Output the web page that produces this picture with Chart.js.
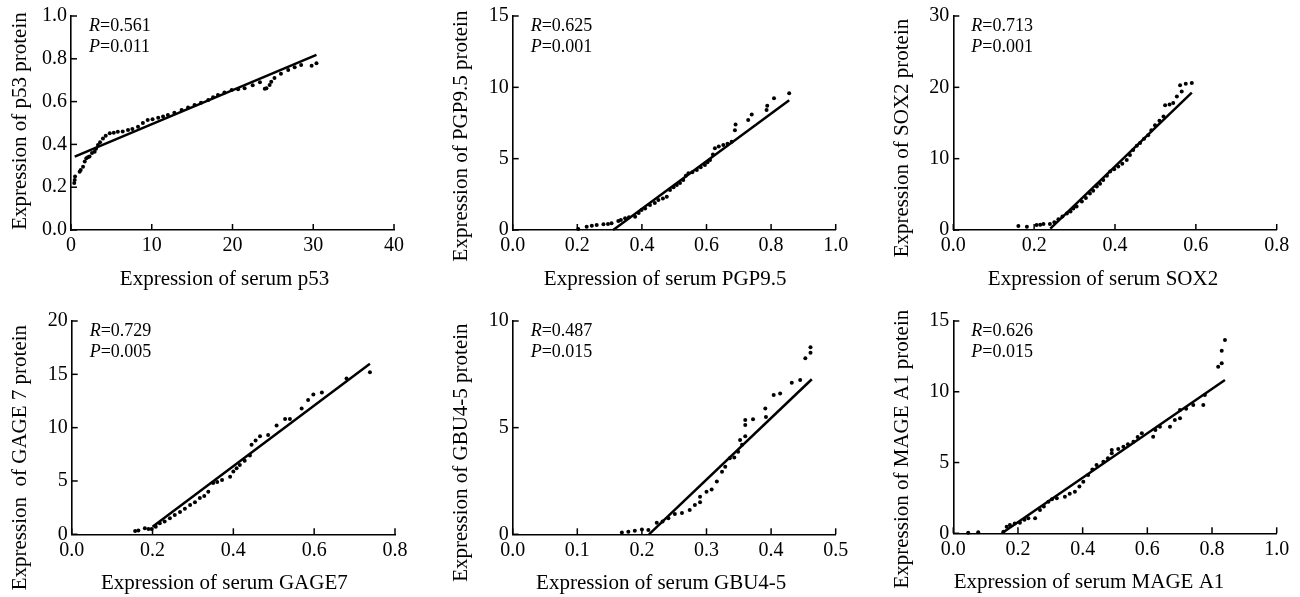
<!DOCTYPE html>
<html>
<head>
<meta charset="utf-8">
<script src="https://cdn.jsdelivr.net/npm/chart.js@4.4.0/dist/chart.umd.min.js"></script>
<style>
  body { margin: 0; background: #fff; }
  canvas { position: absolute; }
</style>
</head>
<body>
<canvas id="c0" width="440" height="290" style="left:0;top:0"></canvas>
<canvas id="c1" width="430" height="290" style="left:440px;top:0"></canvas>
<canvas id="c2" width="430" height="290" style="left:870px;top:0"></canvas>
<canvas id="c3" width="440" height="307" style="left:0;top:290px"></canvas>
<canvas id="c4" width="430" height="307" style="left:440px;top:290px"></canvas>
<canvas id="c5" width="430" height="307" style="left:870px;top:290px"></canvas>
<script>
// ---- data ----
const p53Serum = [0.4, 0.46, 0.5, 1.07, 1.2, 1.49, 1.7, 1.9, 2.1, 2.3, 2.6, 2.93, 3.1, 3.34, 3.6, 3.96, 4.3, 4.8, 5.3, 5.8, 6.4, 7.06, 7.6, 8.3, 8.9, 9.5, 10.1, 10.8, 11.4, 12.0, 12.8, 13.7, 14.5, 15.3, 16.1, 17.0, 17.6, 18.2, 19.0, 19.9, 20.7, 21.5, 22.5, 23.4, 24.0, 24.2, 24.6, 24.8, 25.2, 26.0, 26.9, 27.7, 28.5, 29.8, 30.4];
const p53Protein = [0.22, 0.234, 0.25, 0.272, 0.28, 0.296, 0.32, 0.335, 0.34, 0.343, 0.36, 0.366, 0.38, 0.397, 0.41, 0.428, 0.44, 0.452, 0.455, 0.459, 0.46, 0.467, 0.472, 0.483, 0.5, 0.514, 0.518, 0.525, 0.53, 0.537, 0.548, 0.561, 0.572, 0.584, 0.595, 0.607, 0.62, 0.631, 0.642, 0.654, 0.658, 0.662, 0.676, 0.69, 0.66, 0.662, 0.678, 0.693, 0.71, 0.73, 0.748, 0.76, 0.771, 0.768, 0.779];
const p53FitSerum = [0.46, 30.4];
const p53FitProtein = [0.343, 0.818];

const pgpSerum = [0.203, 0.229, 0.245, 0.26, 0.281, 0.295, 0.306, 0.327, 0.335, 0.348, 0.36, 0.379, 0.39, 0.399, 0.41, 0.425, 0.44, 0.451, 0.465, 0.477, 0.487, 0.498, 0.508, 0.518, 0.528, 0.536, 0.544, 0.556, 0.57, 0.582, 0.595, 0.603, 0.611, 0.62, 0.626, 0.638, 0.652, 0.665, 0.678, 0.688, 0.69, 0.729, 0.74, 0.786, 0.788, 0.809, 0.856];
const pgpProtein = [0.07, 0.23, 0.3, 0.35, 0.4, 0.42, 0.47, 0.63, 0.7, 0.82, 0.9, 0.93, 1.2, 1.4, 1.5, 1.75, 1.9, 2.1, 2.2, 2.33, 2.8, 3.0, 3.15, 3.3, 3.5, 3.8, 3.97, 4.05, 4.2, 4.4, 4.55, 4.75, 4.9, 5.3, 5.73, 5.85, 5.96, 6.05, 6.19, 7.0, 7.4, 7.71, 8.1, 8.41, 8.71, 9.23, 9.58];
const pgpFitSerum = [0.311, 0.856];
const pgpFitProtein = [0, 9.1];

const sox2Serum = [0.161, 0.182, 0.206, 0.215, 0.223, 0.239, 0.25, 0.26, 0.27, 0.281, 0.29, 0.297, 0.305, 0.318, 0.328, 0.338, 0.346, 0.355, 0.363, 0.371, 0.38, 0.388, 0.398, 0.408, 0.418, 0.429, 0.437, 0.445, 0.454, 0.462, 0.472, 0.482, 0.49, 0.499, 0.51, 0.52, 0.524, 0.535, 0.544, 0.553, 0.565, 0.561, 0.575, 0.59];
const sox2Protein = [0.56, 0.47, 0.7, 0.75, 0.84, 0.84, 1.1, 1.5, 1.9, 2.3, 2.6, 3.0, 3.3, 4.0, 4.5, 5.1, 5.5, 6.1, 6.5, 7.0, 7.6, 8.2, 8.5, 8.9, 9.3, 9.8, 10.5, 11.2, 11.8, 12.2, 12.8, 13.3, 14.0, 14.7, 15.3, 15.9, 17.5, 17.6, 17.8, 18.7, 19.4, 20.3, 20.5, 20.6];
const sox2FitSerum = [0.24, 0.59];
const sox2FitProtein = [0.2, 19.25];

const gageSerum = [0.157, 0.165, 0.181, 0.19, 0.198, 0.208, 0.218, 0.23, 0.243, 0.255, 0.268, 0.28, 0.293, 0.305, 0.317, 0.328, 0.338, 0.35, 0.36, 0.372, 0.392, 0.4, 0.408, 0.416, 0.428, 0.441, 0.445, 0.455, 0.466, 0.486, 0.507, 0.528, 0.54, 0.569, 0.585, 0.598, 0.619, 0.68, 0.738];
const gageProtein = [0.31, 0.35, 0.56, 0.5, 0.5, 0.7, 1.03, 1.2, 1.5, 1.8, 2.1, 2.4, 2.75, 3.0, 3.4, 3.6, 4.0, 4.8, 4.9, 5.1, 5.4, 5.9, 6.2, 6.5, 6.9, 7.4, 8.4, 8.8, 9.2, 9.3, 10.2, 10.8, 10.8, 11.8, 12.6, 13.1, 13.3, 14.6, 15.2];
const gageFitSerum = [0.2, 0.738];
const gageFitProtein = [0.7, 16.0];

const gbuSerum = [0.169, 0.179, 0.189, 0.2, 0.21, 0.223, 0.232, 0.241, 0.251, 0.262, 0.274, 0.282, 0.29, 0.29, 0.3, 0.308, 0.316, 0.324, 0.329, 0.336, 0.343, 0.349, 0.352, 0.355, 0.36, 0.36, 0.36, 0.372, 0.391, 0.392, 0.404, 0.414, 0.432, 0.445, 0.453, 0.461, 0.461];
const gbuProtein = [0.08, 0.12, 0.17, 0.23, 0.2, 0.54, 0.6, 0.75, 0.95, 1.0, 1.14, 1.37, 1.76, 1.5, 2.0, 2.1, 2.47, 2.93, 3.17, 3.56, 3.6, 3.87, 4.42, 4.2, 4.6, 5.12, 5.36, 5.39, 5.9, 5.5, 6.53, 6.6, 7.1, 7.23, 8.25, 8.51, 8.77];
const gbuFitSerum = [0.211, 0.463];
const gbuFitProtein = [0, 7.27];

const mageSerum = [0.046, 0.077, 0.155, 0.165, 0.175, 0.19, 0.206, 0.22, 0.232, 0.253, 0.268, 0.28, 0.294, 0.305, 0.32, 0.345, 0.36, 0.376, 0.39, 0.402, 0.417, 0.43, 0.443, 0.464, 0.478, 0.49, 0.49, 0.51, 0.526, 0.54, 0.557, 0.57, 0.583, 0.618, 0.625, 0.639, 0.67, 0.685, 0.701, 0.701, 0.72, 0.742, 0.773, 0.778, 0.819, 0.83, 0.83, 0.84];
const mageProtein = [0.04, 0.07, 0.11, 0.47, 0.59, 0.7, 0.75, 0.95, 1.06, 1.06, 1.65, 1.9, 2.23, 2.4, 2.47, 2.59, 2.8, 2.94, 3.3, 3.65, 4.12, 4.5, 4.83, 5.06, 5.3, 5.65, 5.89, 5.95, 6.12, 6.3, 6.47, 6.8, 7.07, 6.83, 7.3, 7.53, 7.53, 8.0, 8.12, 8.71, 8.8, 9.06, 9.06, 9.77, 11.77, 12.01, 12.9, 13.66];
const mageFitSerum = [0.15, 0.84];
const mageFitProtein = [0, 10.83];

// tick values and their printed labels
const xTickValues = [[0, 10, 20, 30, 40], [0, 0.2, 0.4, 0.6, 0.8, 1.0], [0, 0.2, 0.4, 0.6, 0.8], [0, 0.2, 0.4, 0.6, 0.8], [0, 0.1, 0.2, 0.3, 0.4, 0.5], [0, 0.2, 0.4, 0.6, 0.8, 1.0]];
const xTickLabels = [['0', '10', '20', '30', '40'], ['0.0', '0.2', '0.4', '0.6', '0.8', '1.0'], ['0.0', '0.2', '0.4', '0.6', '0.8'], ['0.0', '0.2', '0.4', '0.6', '0.8'], ['0.0', '0.1', '0.2', '0.3', '0.4', '0.5'], ['0.0', '0.2', '0.4', '0.6', '0.8', '1.0']];
const yTickValues = [[0, 0.2, 0.4, 0.6, 0.8, 1.0], [0, 5, 10, 15], [0, 10, 20, 30], [0, 5, 10, 15, 20], [0, 5, 10], [0, 5, 10, 15]];
const yTickLabels = [['0.0', '0.2', '0.4', '0.6', '0.8', '1.0'], ['0', '5', '10', '15'], ['0', '10', '20', '30'], ['0', '5', '10', '15', '20'], ['0', '5', '10'], ['0', '5', '10', '15']];

const xTitles = ['Expression of serum p53', 'Expression of serum PGP9.5', 'Expression of serum SOX2', 'Expression of serum GAGE7', 'Expression of serum GBU4-5', 'Expression of serum MAGE A1'];
const yTitles = ['Expression of p53 protein', 'Expression of PGP9.5 protein', 'Expression of SOX2 protein', 'Expression  of GAGE 7 protein', 'Expression of GBU4-5 protein', 'Expression of MAGE A1 protein'];
const rValues = ['0.561', '0.625', '0.713', '0.729', '0.487', '0.626'];
const pValues = ['0.011', '0.001', '0.001', '0.005', '0.015', '0.015'];

const serumSets = [p53Serum, pgpSerum, sox2Serum, gageSerum, gbuSerum, mageSerum];
const proteinSets = [p53Protein, pgpProtein, sox2Protein, gageProtein, gbuProtein, mageProtein];
const fitSerumSets = [p53FitSerum, pgpFitSerum, sox2FitSerum, gageFitSerum, gbuFitSerum, mageFitSerum];
const fitProteinSets = [p53FitProtein, pgpFitProtein, sox2FitProtein, gageFitProtein, gbuFitProtein, mageFitProtein];

// plot frame of each panel inside its canvas: left, top, right, bottom
const frames = [
  { area: [71, 16, 394, 230], xShift: -8, yShift: -2 },
  { area: [72.7, 16, 395.7, 230], xShift: -9, yShift: 13 },
  { area: [83.3, 16, 406.7, 230], xShift: -12, yShift: 15 },
  { area: [71.7, 31, 395, 244.3], xShift: -9, yShift: 30 },
  { area: [72.7, 31, 395.7, 244.3], xShift: -13, yShift: 25 },
  { area: [83.3, 31, 406.7, 243.3], xShift: -26, yShift: 22 }
];

const serif = '"Liberation Serif", "Times New Roman", serif';

// tick marks drawn inward like the original
const innerTicks = {
  id: 'innerTicks',
  afterDraw(chart) {
    const { ctx, chartArea: a, scales: { x, y } } = chart;
    ctx.save();
    ctx.strokeStyle = '#000';
    ctx.lineWidth = 1.5;
    x.ticks.forEach(t => {
      const px = x.getPixelForValue(t.value);
      ctx.beginPath(); ctx.moveTo(px, a.bottom); ctx.lineTo(px, a.bottom - 6); ctx.stroke();
    });
    y.ticks.forEach(t => {
      const py = y.getPixelForValue(t.value);
      ctx.beginPath(); ctx.moveTo(a.left, py); ctx.lineTo(a.left + 6, py); ctx.stroke();
    });
    ctx.restore();
  }
};

// axis titles and the R / P note
const panelText = {
  id: 'panelText',
  afterDraw(chart, args, o) {
    const { ctx, chartArea: a } = chart;
    ctx.save();
    ctx.fillStyle = '#000';
    ctx.font = '21px ' + serif;
    ctx.textAlign = 'center';
    ctx.textBaseline = 'alphabetic';
    ctx.fillText(o.xTitle, (a.left + a.right) / 2 + o.xShift, a.bottom + 55);
    ctx.translate(a.left - 45.5, (a.top + a.bottom) / 2 + o.yShift);
    ctx.rotate(-Math.PI / 2);
    ctx.fillText(o.yTitle, 0, 0);
    ctx.restore();

    ctx.save();
    ctx.fillStyle = '#000';
    ctx.textAlign = 'left';
    ctx.textBaseline = 'alphabetic';
    [['R', o.r, 15], ['P', o.p, 36]].forEach(([sym, val, dy]) => {
      ctx.font = 'italic 18px ' + serif;
      ctx.fillText(sym, a.left + 18, a.top + dy);
      const w = ctx.measureText(sym).width;
      ctx.font = '18px ' + serif;
      ctx.fillText('=' + val, a.left + 18 + w, a.top + dy);
    });
    ctx.restore();
  }
};

frames.forEach((f, i) => {
  const canvas = document.getElementById('c' + i);
  const W = canvas.width, H = canvas.height;
  const xs = xTickValues[i], ys = yTickValues[i];

  new Chart(canvas, {
    type: 'scatter',
    data: {
      datasets: [
        {
          data: fitSerumSets[i].map((x, k) => ({ x: x, y: fitProteinSets[i][k] })),
          showLine: true,
          borderColor: '#000',
          borderWidth: 2.5,
          pointRadius: 0,
          clip: false
        },
        {
          data: serumSets[i].map((x, k) => ({ x: x, y: proteinSets[i][k] })),
          backgroundColor: '#000',
          borderWidth: 0,
          pointRadius: 2,
          clip: false
        }
      ]
    },
    options: {
      responsive: false,
      animation: false,
      events: [],
      layout: { padding: { left: 0, top: f.area[1], right: W - f.area[2], bottom: 0 } },
      plugins: {
        legend: { display: false },
        tooltip: { enabled: false },
        panelText: {
          xTitle: xTitles[i], yTitle: yTitles[i],
          r: rValues[i], p: pValues[i],
          xShift: f.xShift, yShift: f.yShift
        }
      },
      scales: {
        x: {
          type: 'linear',
          min: xs[0],
          max: xs[xs.length - 1],
          afterBuildTicks: s => { s.ticks = xs.map(v => ({ value: v })); },
          afterFit: s => { s.height = H - f.area[3]; },
          ticks: {
            callback: (v, k) => xTickLabels[i][k],
            font: { family: serif, size: 20 },
            color: '#000',
            padding: 4,
            maxRotation: 0,
            autoSkip: false
          },
          grid: { drawOnChartArea: false, drawTicks: false },
          border: { color: '#000', width: 1.6 }
        },
        y: {
          type: 'linear',
          min: ys[0],
          max: ys[ys.length - 1],
          afterBuildTicks: s => { s.ticks = ys.map(v => ({ value: v })); },
          afterFit: s => { s.width = f.area[0]; },
          ticks: {
            callback: (v, k) => yTickLabels[i][k],
            font: { family: serif, size: 20 },
            color: '#000',
            padding: 4,
            autoSkip: false
          },
          grid: { drawOnChartArea: false, drawTicks: false },
          border: { color: '#000', width: 1.6 }
        }
      }
    },
    plugins: [innerTicks, panelText]
  });
});
</script>
</body>
</html>
